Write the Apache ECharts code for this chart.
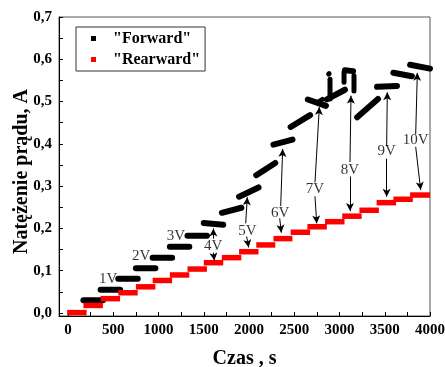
<!DOCTYPE html>
<html>
<head>
<meta charset="utf-8">
<script src="https://cdn.jsdelivr.net/npm/echarts@6/dist/echarts.min.js"></script>
<style>
html,body{margin:0;padding:0;background:#fff;}
#chart{width:445px;height:367px;}
</style>
</head>
<body>
<div id="chart"></div>
<script>
// ---- data ----
// Rearward (red) voltage steps: start time, end time, current
const revT0 = [-10, 170, 360, 555, 750, 935, 1125, 1320, 1500, 1700, 1890, 2080, 2270, 2460, 2645, 2840, 3030, 3220, 3410, 3595, 3780];
const revT1 = [205, 385, 575, 770, 965, 1150, 1340, 1535, 1715, 1915, 2105, 2290, 2480, 2675, 2860, 3055, 3245, 3435, 3625, 3810, 4000];
const revV  = [0.001, 0.018, 0.034, 0.048, 0.062, 0.077, 0.090, 0.104, 0.119, 0.131, 0.145, 0.161, 0.176, 0.191, 0.204, 0.216, 0.229, 0.243, 0.261, 0.269, 0.279];

// Forward (black) voltage steps: start time, end time, current at start, current at end
const fwdT0 = [170, 360, 555, 750, 935, 1125, 1320, 1500, 1700, 1890, 2080, 2270, 2460, 2650, 2860, 3060, 3195, 3415, 3595, 3780];
const fwdT1 = [385, 575, 770, 965, 1150, 1340, 1535, 1715, 1915, 2105, 2290, 2480, 2675, 2850, 3060, 3150, 3425, 3635, 3800, 4000];
const fwdV0 = [0.030, 0.055, 0.081, 0.106, 0.131, 0.157, 0.183, 0.213, 0.237, 0.275, 0.326, 0.398, 0.440, 0.505, 0.505, 0.574, 0.463, 0.535, 0.568, 0.587];
const fwdV1 = [0.030, 0.055, 0.081, 0.106, 0.131, 0.157, 0.183, 0.209, 0.249, 0.297, 0.355, 0.410, 0.468, 0.490, 0.528, 0.572, 0.506, 0.537, 0.560, 0.578];
// irregular jumps inside the 7V-8V steps
const fwdXT0 = [2895, 2880, 3050, 3160, 2760];
const fwdXT1 = [2895, 2885, 3050, 3160, 2810];
const fwdXV0 = [0.506, 0.565, 0.546, 0.561, 0.498];
const fwdXV1 = [0.553, 0.566, 0.570, 0.525, 0.505];

// voltage annotations
const voltLabels = ['1V', '2V', '3V', '4V', '5V', '6V', '7V', '8V', '9V', '10V'];
const voltX = [442, 807, 1193, 1604, 1981, 2343, 2729, 3116, 3521, 3842];
const voltY = [0.081, 0.134, 0.183, 0.159, 0.195, 0.237, 0.293, 0.338, 0.382, 0.409];
// arrows from labels (start) to the curves (end)
const arrX0 = [1606, 1606, 1963, 1974, 2350, 2339, 2729, 2729, 3116, 3116, 3521, 3521, 3842, 3842];
const arrY0 = [0.176, 0.143, 0.212, 0.181, 0.253, 0.224, 0.309, 0.276, 0.357, 0.323, 0.395, 0.365, 0.423, 0.393];
const arrX1 = [1606, 1617, 1981, 1996, 2372, 2357, 2777, 2748, 3127, 3116, 3528, 3521, 3860, 3897];
const arrY1 = [0.200, 0.124, 0.274, 0.155, 0.388, 0.190, 0.487, 0.212, 0.514, 0.241, 0.522, 0.275, 0.568, 0.291];

// axis tick values
const xLabelVals = [0, 500, 1000, 1500, 2000, 2500, 3000, 3500, 4000];
const xTickVals = [0, 250, 500, 750, 1000, 1250, 1500, 1750, 2000, 2250, 2500, 2750, 3000, 3250, 3500, 3750, 4000];
const yLabelVals = [0, 0.1, 0.2, 0.3, 0.4, 0.5, 0.6, 0.7];
const yTickVals = [0, 0.05, 0.1, 0.15, 0.2, 0.25, 0.3, 0.35, 0.4, 0.45, 0.5, 0.55, 0.6, 0.65, 0.7];

// ---- build chart ----
const serif = 'Liberation Serif';
const revData = revT0.map((t, i) => [t, revV[i], revT1[i], revV[i]]);
const fwdData = fwdT0.map((t, i) => [t, fwdV0[i], fwdT1[i], fwdV1[i]]);
const fwdXData = fwdXT0.map((t, i) => [t, fwdXV0[i], fwdXT1[i], fwdXV1[i]]);
const labelData = voltLabels.map((s, i) => [voltX[i], voltY[i], s]);
const arrowData = arrX0.map((x, i) => [{coord: [x, arrY0[i]]}, {coord: [arrX1[i], arrY1[i]]}]);

function segRenderer(color, width, cap) {
  return function (params, api) {
    const p0 = api.coord([api.value(0), api.value(1)]);
    const p1 = api.coord([api.value(2), api.value(3)]);
    return {
      type: 'line',
      shape: {x1: p0[0], y1: p0[1], x2: p1[0], y2: p1[1]},
      style: {stroke: color, lineWidth: width, lineCap: cap}
    };
  };
}

const chart = echarts.init(document.getElementById('chart'), null, {renderer: 'canvas'});
chart.setOption({
  animation: false,
  backgroundColor: '#fff',
  grid: {left: 59, top: 17, right: 15, bottom: 51, show: true, borderColor: '#555', borderWidth: 1,
    containLabel: false, outerBoundsMode: 'none'},
  legend: {
    left: 76, top: 27, orient: 'vertical',
    data: [{name: '"Forward"'}, {name: '"Rearward"'}],
    icon: 'rect', itemWidth: 5, itemHeight: 5, itemGap: 4,
    padding: [3, 5, 3, 15],
    borderColor: '#333', borderWidth: 1,
    textStyle: {fontFamily: serif, fontWeight: 'bold', fontSize: 16, lineHeight: 17, color: '#000', padding: [0, 0, 0, 12]}
  },
  xAxis: {
    type: 'value', min: -100, max: 4000,
    name: 'Czas , s', nameLocation: 'middle', nameGap: 33, nameMoveOverlap: false,
    nameTextStyle: {fontFamily: serif, fontWeight: 'bold', fontSize: 20, color: '#000'},
    axisLine: {show: true, onZero: false, lineStyle: {color: '#000', width: 1}},
    axisTick: {show: true, inside: true, length: 4, customValues: xTickVals, lineStyle: {color: '#000'}},
    axisLabel: {customValues: xLabelVals, fontFamily: serif, fontWeight: 'bold', fontSize: 15, color: '#000', margin: 7,
      formatter: v => String(v)},
    splitLine: {show: false}
  },
  yAxis: {
    type: 'value', min: -0.007, max: 0.7,
    name: 'Natężenie prądu, A', nameLocation: 'middle', nameGap: 27, nameMoveOverlap: false,
    nameTextStyle: {fontFamily: serif, fontWeight: 'bold', fontSize: 20, color: '#000', padding: [0, 10, 0, 0]},
    axisLine: {show: true, onZero: false, lineStyle: {color: '#000', width: 1}},
    axisTick: {show: true, inside: true, length: 4, customValues: yTickVals, lineStyle: {color: '#000'}},
    axisLabel: {customValues: yLabelVals, fontFamily: serif, fontWeight: 'bold', fontSize: 15, color: '#000', margin: 7,
      formatter: v => v.toFixed(1).replace('.', ',')},
    splitLine: {show: false}
  },
  series: [
    {
      name: '"Forward"', type: 'custom', renderItem: segRenderer('#000', 6, 'round'),
      itemStyle: {color: '#000'}, data: fwdData, encode: {x: [0, 2], y: [1, 3]}, z: 2, silent: true
    },
    {
      name: 'fwdExtra', type: 'custom', renderItem: segRenderer('#000', 5, 'round'),
      data: fwdXData, encode: {x: [0, 2], y: [1, 3]}, z: 2, silent: true
    },
    {
      name: '"Rearward"', type: 'custom', renderItem: segRenderer('#ff0000', 5.5, 'butt'),
      itemStyle: {color: '#ff0000'}, data: revData, encode: {x: [0, 2], y: [1, 3]}, z: 3, silent: true
    },
    {
      name: 'labels', type: 'scatter', symbolSize: 0, data: labelData, z: 5, silent: true,
      label: {show: true, position: 'inside', formatter: p => p.data[2],
        fontFamily: serif, fontSize: 15, color: '#000'},
      markLine: {
        silent: true, symbol: ['none', 'arrow'], symbolSize: [6, 8],
        label: {show: false},
        lineStyle: {color: '#000', width: 1, type: 'solid'},
        emphasis: {disabled: true},
        data: arrowData
      }
    }
  ]
});
</script>
</body>
</html>
